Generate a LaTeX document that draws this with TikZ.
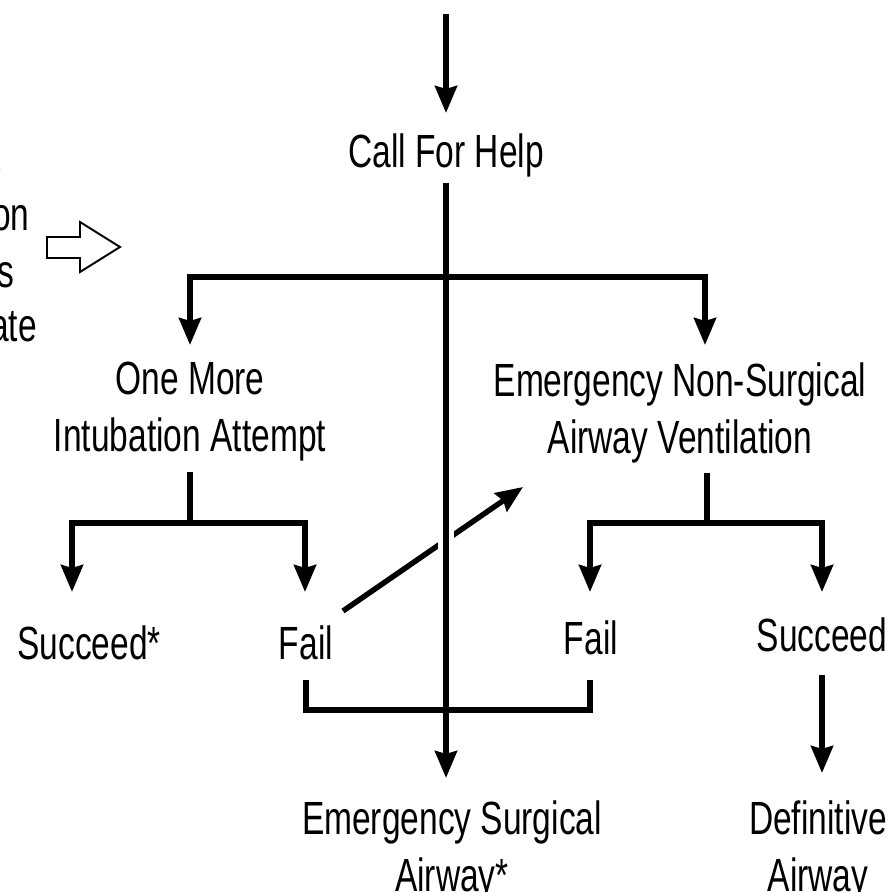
\documentclass[tikz,border=0pt]{standalone}
\usepackage{fontspec}
\setmainfont{Liberation Sans}[FakeStretch=0.72]
\usetikzlibrary{arrows.meta,calc}
\begin{document}
\begin{tikzpicture}[x=0.02cm,y=-0.02cm,
  lbl/.style={inner sep=0pt, font=\fontsize{26.5}{32.4}\selectfont, align=center},
  ln/.style={line width=3.1pt},
  arr/.style={ln, -{Stealth[length=0.54cm,width=0.44cm,inset=0.06cm]}}]
\useasboundingbox (0,0) rectangle (896,892);
\clip (0,0) rectangle (896,892);
% labels
\node[lbl,anchor=north] (help) at (446,133) {Call For Help};
\node[lbl,anchor=north] (omi) at (190,362) {One More\\Intubation Attempt};
\node[lbl,anchor=north] (ensav) at (680,362) {Emergency Non-Surgical\\Airway Ventilation};
\node[lbl,anchor=north] (succA) at (89,625) {Succeed*};
\node[lbl,anchor=north] (failA) at (306,625) {Fail};
\node[lbl,anchor=north] (failB) at (591,620) {Fail};
\node[lbl,anchor=north] (succB) at (822,617) {Succeed};
\node[lbl,anchor=north] (esa) at (452,800) {Emergency Surgical\\Airway*};
\node[lbl,anchor=north] (defa) at (818,800) {Definitive\\Airway};
% cut-off fragments at the edges
\node[lbl,anchor=base] (f0) at (588,-11) {y};
\node[lbl,anchor=base east] (f1) at (1,173) {t};
\node[lbl,anchor=base east] (f2) at (30,230) {on};
\node[lbl,anchor=base east] (f3) at (15,287) {s};
\node[lbl,anchor=base east] (f4) at (37,341) {ate};
% hollow arrow
\draw[line width=1.1pt] (47,237) -- (80,237) -- (80,222) -- (120,247) -- (80,272) -- (80,258) -- (47,258) -- cycle;
% connectors
\coordinate (in) at (446,14);
\draw[arr] (in) -- ($(help.north)+(0,-20)$);
\coordinate (dA) at (343,611);
\coordinate (dB) at (523,487);
\draw[arr] (dA) -- (dB);
\draw[white,line width=9pt] (446,527) -- (446,553);
\draw[arr] ($(help.south)+(0,6)$) -- ($(help.south |- esa.north)+(0,-22)$);
\coordinate (jT) at (446,277);
\draw[arr] (jT) -| ($(omi.north)+(0,-17)$);
\draw[arr] (jT) -| ($(ensav.north)+(25,-17)$);
\coordinate (jL) at (190,523);
\draw[ln] ($(omi.south)+(0,10)$) -- (jL);
\draw[arr] (jL) -| ($(succA.north)+(-17,-33)$);
\draw[arr] (jL) -| ($(failA.north)+(-1,-33)$);
\coordinate (jR) at (707,523);
\draw[ln] ($(ensav.south)+(27,10)$) -- (jR);
\draw[arr] (jR) -| ($(failB.north)+(-1,-28)$);
\draw[arr] (jR) -| ($(succB.north)+(0,-25)$);
\draw[ln] ($(failA.south)+(0,20)$) |- ($(failB.south)+(-1,55)$) -- ($(failB.south)+(-1,25)$);
\draw[arr] ($(succB.south)+(0,23)$) -- ($(defa.north)+(4,-27)$);
\end{tikzpicture}
\end{document}
